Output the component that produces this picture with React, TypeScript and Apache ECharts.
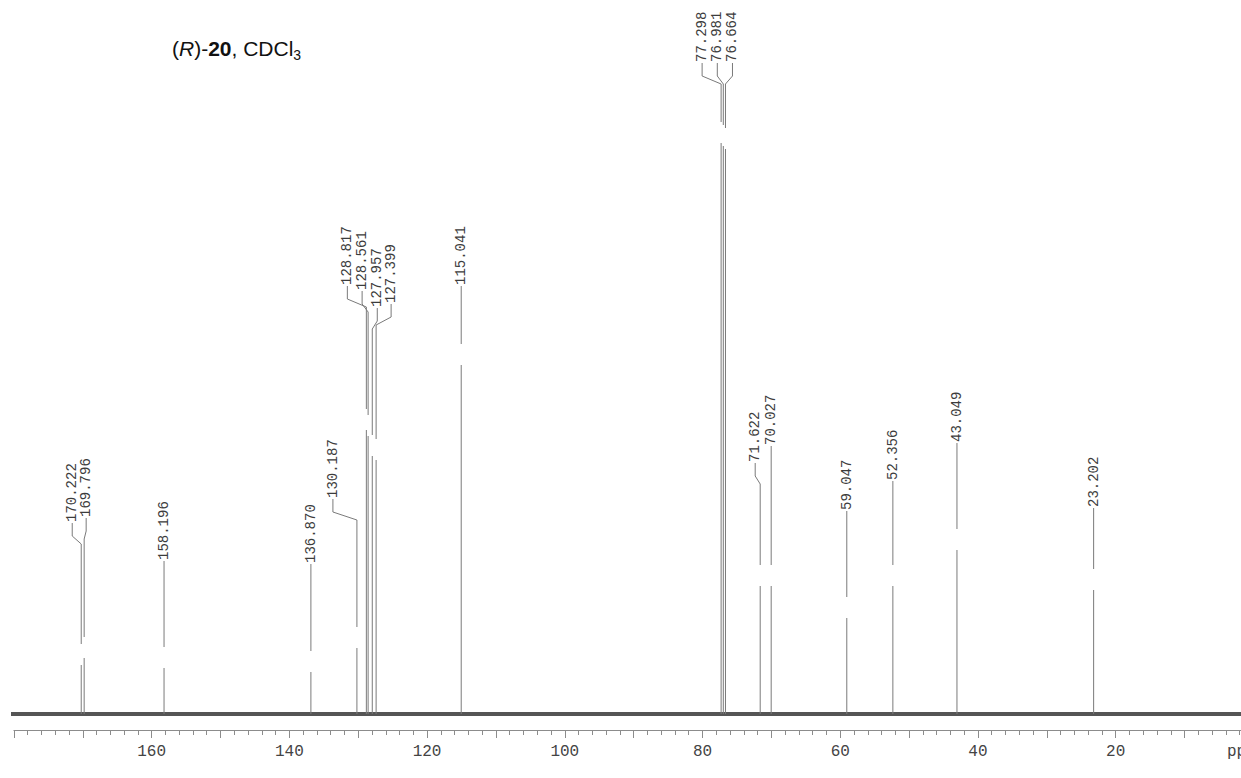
import React, { useEffect, useRef } from 'react';
import * as echarts from 'echarts';

// ---- data (ppm, peak intensity) ----
const peakShifts = [170.222, 169.796, 158.196, 136.87, 130.187, 128.817, 128.561, 127.957, 127.399, 115.041, 77.298, 76.981, 76.664, 71.622, 70.027, 59.047, 52.356, 43.049, 23.202];
const peakLabels = peakShifts.map((v) => v.toFixed(3));
const peakIntensities = [49, 56, 46, 42, 66, 284, 278, 258, 254, 349, 571, 568, 565, 128, 128, 96, 128, 164, 124];
const baselineRange = [180.6, 1.5];
const tickLabelValues = [160, 140, 120, 100, 80, 60, 40, 20];
const unitLabel = 'ppm';

// ---- annotation layout (label level in intensity units, horizontal label offset in px) ----
const labelLevels = [192, 197, 154, 151, 216, 429, 424, 407, 411, 429, 652, 652, 652, 252, 269, 204, 234, 272, 207];
const labelOffsets = [-9, 2, 0, 0, -24, -19, -6, 5, 15, 0, -19, -6, 7, -5, 0, 0, 0, 0, 0];

const GAP = 21;
const DROP = 14;
const SLANT = 8;

export default function App() {
  const ref = useRef<HTMLDivElement>(null);
  useEffect(() => {
    if (!ref.current) return;
    const chart = echarts.init(ref.current, null, { renderer: 'svg' });
    const peakData = peakShifts.map((p, i) => [p, peakIntensities[i], labelLevels[i], labelOffsets[i]]);
    const option: any = {
      animation: false,
      backgroundColor: '#ffffff',
      grid: { left: 13.9, right: -12.4, top: 0, bottom: 48, containLabel: false, outerBoundsMode: 'none' },
      xAxis: {
        type: 'value',
        inverse: true,
        min: 0,
        max: 180,
        interval: 10,
        axisLine: { show: true, onZero: false, lineStyle: { color: '#8c8c8c', width: 1 } },
        axisTick: { show: true, length: 8, lineStyle: { color: '#8c8c8c', width: 1 } },
        minorTick: { show: true, splitNumber: 5, length: 5, lineStyle: { color: '#8c8c8c', width: 1 } },
        splitLine: { show: false },
        minorSplitLine: { show: false },
        axisLabel: {
          show: true,
          margin: 14,
          color: '#444',
          fontFamily: 'Liberation Mono',
          fontSize: 16,
          formatter: (v: number) => {
            if (v === 0) return '{p|' + unitLabel + '}';
            return tickLabelValues.indexOf(v) >= 0 ? String(v) : '';
          },
          rich: {
            p: { fontFamily: 'Liberation Mono', fontSize: 16, color: '#444', padding: [0, 24, 0, 0] },
          },
        },
      },
      yAxis: { type: 'value', min: -16, max: 714, show: false },
      graphic: [
        {
          type: 'text',
          left: 172,
          top: 38,
          style: {
            text: '{n|(}{i|R}{n|)-}{b|20}{n|, CDCl}{s|3}',
            rich: {
              n: { fontFamily: 'Liberation Sans', fontSize: 21, lineHeight: 26, verticalAlign: 'middle', fill: '#111' },
              i: { fontFamily: 'Liberation Sans', fontSize: 21, fontStyle: 'italic', lineHeight: 26, verticalAlign: 'middle', fill: '#111' },
              b: { fontFamily: 'Liberation Sans', fontSize: 21, fontWeight: 'bold', lineHeight: 26, verticalAlign: 'middle', fill: '#111' },
              s: { fontFamily: 'Liberation Sans', fontSize: 14, lineHeight: 26, verticalAlign: 'bottom', fill: '#111' },
            },
          },
        },
      ],
      series: [
        {
          type: 'line',
          data: [[baselineRange[0], 0], [baselineRange[1], 0]],
          symbol: 'none',
          clip: false,
          silent: true,
          lineStyle: { color: '#555555', width: 4 },
          z: 2,
        },
        {
          type: 'custom',
          data: peakData,
          clip: false,
          silent: true,
          z: 3,
          renderItem: (params: any, api: any) => {
            const i = params.dataIndex;
            const ppm = api.value(0);
            const h = api.value(1);
            const lv = api.value(2);
            const off = api.value(3);
            const top = api.coord([ppm, h]);
            const base = api.coord([ppm, 0]);
            const lab = api.coord([ppm, lv]);
            const px = top[0];
            const lx = px + off;
            const ly = lab[1];
            const endY = top[1] - GAP;
            const pts = off === 0
              ? [[lx, ly + 1], [px, endY]]
              : [[lx, ly + 1], [lx, ly + DROP], [px, ly + DROP + SLANT], [px, endY]];
            return {
              type: 'group',
              children: [
                {
                  type: 'line',
                  shape: { x1: px, y1: top[1], x2: px, y2: base[1] },
                  style: { stroke: '#7a7a7a', lineWidth: 1 },
                },
                {
                  type: 'polyline',
                  shape: { points: pts },
                  style: { stroke: '#7a7a7a', lineWidth: 1, fill: null },
                },
                {
                  type: 'text',
                  x: lx,
                  y: ly,
                  rotation: Math.PI / 2,
                  style: {
                    text: peakLabels[i],
                    fill: '#3c3c3c',
                    font: '14px "Liberation Mono"',
                    align: 'left',
                    verticalAlign: 'middle',
                    textAlign: 'left',
                    textVerticalAlign: 'middle',
                  },
                },
              ],
            };
          },
        },
      ],
    };
    chart.setOption(option);
    return () => chart.dispose();
  }, []);
  return (
    <div
      ref={ref}
      style={{ position: 'fixed', left: 0, top: 0, width: 1241, height: 778, background: '#fff' }}
    />
  );
}
